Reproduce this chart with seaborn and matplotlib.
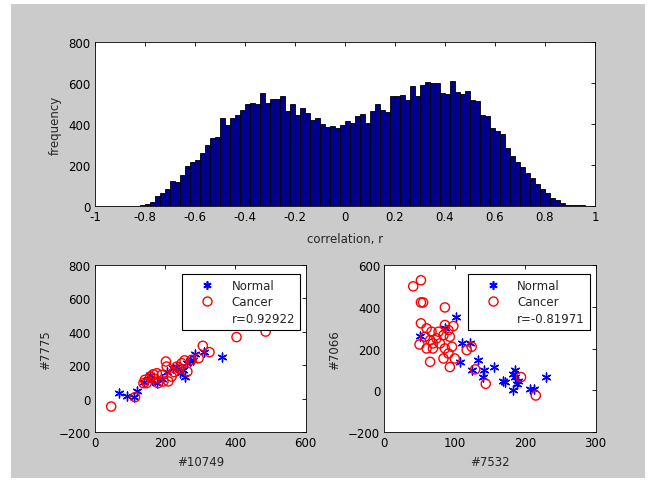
import numpy as np
import pandas as pd
import matplotlib
matplotlib.use("Agg")
import matplotlib.pyplot as plt
from matplotlib.lines import Line2D
from matplotlib.patches import Rectangle
import seaborn as sns

# ---- histogram of gene-pair correlations (100 bins over [-1, 1]) ----
bin_edges = np.linspace(-1, 1, 101)
hist_counts = [
    0, 0, 0, 0, 0, 0, 0, 0, 0,
    5, 10, 19, 48, 64, 84, 121, 116, 153, 193,
    217, 226, 258, 298, 330, 338, 431, 394, 427, 443,
    470, 499, 502, 499, 552, 502, 520, 520, 539, 462,
    499, 443, 480, 454, 419, 427, 402, 386, 391, 380,
    395,
    415, 406, 438, 448, 406, 462, 499, 470, 459, 536,
    536, 543, 515, 583, 536, 588, 604, 599, 599, 552,
    544, 609, 556, 547, 563, 515, 512, 443, 441, 382,
    365, 349, 282, 242, 213, 188, 161, 137, 108, 85,
    61, 40, 27, 13, 5, 5, 3, 6, 2, 0,
]

# ---- gene #10749 vs gene #7775 ----
g10749_normal = [68, 90, 112, 121, 361, 310, 285, 280, 261, 251, 242, 256, 223,
                 176, 161, 157, 205, 230, 270, 190, 140]
g7775_normal = [34, 18, 10, 48, 249, 279, 267, 233, 213, 173, 153, 133, 183,
                94, 114, 143, 160, 190, 225, 120, 100]
g10749_cancer = [46, 114, 403, 486, 307, 326, 295, 202, 204, 176, 157, 142, 138,
                 180, 195, 218, 247, 275, 263, 233, 190, 166, 147, 209, 225, 255,
                 170, 240]
g7775_cancer = [-46, 10, 369, 402, 317, 279, 243, 223, 193, 153, 133, 114, 94,
                94, 104, 133, 213, 233, 163, 193, 143, 147, 94, 104, 160, 230,
                120, 180]
r_left = "r=0.92922"

# ---- gene #7532 vs gene #7066 ----
g7532_normal = [50, 86, 102, 107, 110, 122, 124, 133, 141, 140, 155, 169, 171,
                183, 186, 188, 183, 190, 207, 212, 229, 186]
g7066_normal = [262, 297, 350, 137, 225, 225, 96, 145, 96, 64, 112, 45, 40,
                80, 64, 32, 0, 45, 8, 8, 64, 96]
g7532_cancer = [41, 52, 52, 55, 86, 52, 50, 65, 93, 100, 98, 86, 60, 67, 74, 65,
                58, 69, 79, 86, 91, 84, 96, 93, 84, 69, 77, 117, 124, 129, 144,
                194, 215, 91, 60]
g7066_cancer = [498, 527, 421, 421, 397, 321, 220, 137, 112, 153, 308, 313, 297,
                281, 249, 241, 257, 201, 225, 201, 177, 153, 209, 257, 265, 225,
                281, 193, 209, 101, 32, 64, -24, 289, 201]
r_right = "r=-0.81971"

FS = 8.5
sns.set_theme(style="white")
plt.rcParams["font.family"] = ["DejaVu Sans"]
plt.rcParams["font.size"] = FS

fig = plt.figure(figsize=(6.54, 4.85), dpi=100, facecolor="white")
fig.patches.append(Rectangle((11 / 654, 1 - 479 / 485), (645 - 11) / 654, (479 - 5) / 485,
                             transform=fig.transFigure, facecolor="#cbcbcb",
                             edgecolor="none", zorder=-10))

W, H = 654, 485
def axes_px(x0, y0, x1, y1):
    return fig.add_axes([x0 / W, 1 - y1 / H, (x1 - x0) / W, (y1 - y0) / H])

def matlab_axes(ax):
    ax.set_facecolor("white")
    for s in ax.spines.values():
        s.set_visible(True)
        s.set_color("black")
        s.set_linewidth(0.6)
    ax.tick_params(direction="in", top=True, right=True, length=3, width=0.6,
                   labelsize=FS, colors="black", pad=3)
    ax.grid(False)

# top histogram
ax_h = axes_px(95, 43, 595, 207)
centers = (bin_edges[:-1] + bin_edges[1:]) / 2
hist_df = pd.DataFrame({"r": centers, "count": hist_counts})
sns.histplot(data=hist_df, x="r", weights="count", binwidth=0.02, binrange=(-1, 1),
             ax=ax_h, color="#00008F", alpha=1.0, edgecolor="black", linewidth=0.6)
ax_h.set_xlim(-1, 1)
ax_h.set_ylim(0, 800)
ax_h.set_xticks(np.arange(-1, 1.01, 0.2))
ax_h.set_xticklabels(["-1", "-0.8", "-0.6", "-0.4", "-0.2", "0", "0.2", "0.4", "0.6", "0.8", "1"])
ax_h.set_yticks([0, 200, 400, 600, 800])
ax_h.set_xlabel("correlation, r", fontsize=FS, labelpad=6)
ax_h.set_ylabel("frequency", fontsize=FS, labelpad=5)
matlab_axes(ax_h)

asterisk = (6, 2, 0)

def scatter_panel(ax, xn, yn, xc, yc, rtext):
    sns.scatterplot(x=xn, y=yn, ax=ax, marker=asterisk, s=40, color="blue",
                    edgecolor="blue", linewidth=1.0, zorder=3)
    sns.scatterplot(x=xc, y=yc, ax=ax, marker="o", s=44, facecolor="none",
                    edgecolor="red", linewidth=1.0, zorder=4)
    handles = [
        Line2D([], [], marker=asterisk, color="blue", markeredgecolor="blue",
               linestyle="none", markersize=6, markeredgewidth=1.2),
        Line2D([], [], marker="o", color="red", markerfacecolor="none",
               linestyle="none", markersize=6.5, markeredgewidth=1.0),
        Line2D([], [], linestyle="none", marker=None),
    ]
    leg = ax.legend(handles, ["Normal", "Cancer", rtext], loc="upper right",
                    bbox_to_anchor=(0.972, 0.946), frameon=True, fancybox=False,
                    edgecolor="black", framealpha=1, fontsize=FS,
                    handletextpad=0.3, borderpad=0.4, labelspacing=0.3,
                    handlelength=3.5, borderaxespad=0)
    leg.get_frame().set_linewidth(0.8)
    matlab_axes(ax)

ax_l = axes_px(95, 266, 305.7, 433.3)
scatter_panel(ax_l, g10749_normal, g7775_normal, g10749_cancer, g7775_cancer, r_left)
ax_l.set_xlim(0, 600)
ax_l.set_ylim(-200, 800)
ax_l.set_xticks([0, 200, 400, 600])
ax_l.set_yticks([-200, 0, 200, 400, 600, 800])
ax_l.set_xlabel("#10749", fontsize=FS, labelpad=4)
ax_l.set_ylabel("#7775", fontsize=FS, labelpad=5)

ax_r = axes_px(384.3, 266, 595.7, 433.3)
scatter_panel(ax_r, g7532_normal, g7066_normal, g7532_cancer, g7066_cancer, r_right)
ax_r.set_xlim(0, 300)
ax_r.set_ylim(-200, 600)
ax_r.set_xticks([0, 100, 200, 300])
ax_r.set_yticks([-200, 0, 200, 400, 600])
ax_r.set_xlabel("#7532", fontsize=FS, labelpad=4)
ax_r.set_ylabel("#7066", fontsize=FS, labelpad=5)

fig.savefig("out.png", dpi=100, facecolor="white")
